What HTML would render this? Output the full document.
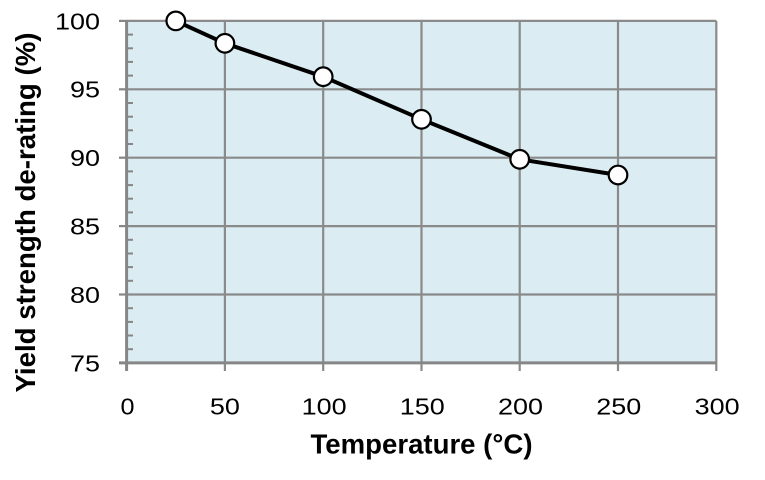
<!DOCTYPE html>
<html><head><meta charset="utf-8"><style>
html,body{margin:0;padding:0;background:#fff;}
svg{display:block;}
text{font-family:"Liberation Sans",Arial,sans-serif;fill:#000;}
</style></head><body>
<svg width="765" height="480" viewBox="0 0 765 480" xmlns="http://www.w3.org/2000/svg">
<rect x="126.6" y="20.9" width="589.7" height="342" fill="#dbedf3"/>
<g stroke="#8a8a8a" stroke-width="2.2" fill="none">
<line x1="126.6" y1="20.9" x2="716.3" y2="20.9"/>
<line x1="126.6" y1="89.3" x2="716.3" y2="89.3"/>
<line x1="126.6" y1="157.7" x2="716.3" y2="157.7"/>
<line x1="126.6" y1="226.1" x2="716.3" y2="226.1"/>
<line x1="126.6" y1="294.5" x2="716.3" y2="294.5"/>
<line x1="224.9" y1="20.9" x2="224.9" y2="371"/>
<line x1="323.2" y1="20.9" x2="323.2" y2="371"/>
<line x1="421.5" y1="20.9" x2="421.5" y2="371"/>
<line x1="519.7" y1="20.9" x2="519.7" y2="371"/>
<line x1="618.0" y1="20.9" x2="618.0" y2="371"/>
<line x1="716.3" y1="20.9" x2="716.3" y2="371"/>
</g>
<g stroke="#868686" stroke-width="2.2">
<line x1="119" y1="20.9" x2="127" y2="20.9"/>
<line x1="119" y1="89.3" x2="127" y2="89.3"/>
<line x1="119" y1="157.7" x2="127" y2="157.7"/>
<line x1="119" y1="226.1" x2="127" y2="226.1"/>
<line x1="119" y1="294.5" x2="127" y2="294.5"/>
<line x1="119" y1="362.9" x2="127" y2="362.9"/>
</g>
<g stroke="#868686" stroke-width="2">
<line x1="126" y1="34.6" x2="133" y2="34.6"/><line x1="126" y1="48.3" x2="133" y2="48.3"/><line x1="126" y1="61.9" x2="133" y2="61.9"/><line x1="126" y1="75.6" x2="133" y2="75.6"/>
<line x1="126" y1="103.0" x2="133" y2="103.0"/><line x1="126" y1="116.7" x2="133" y2="116.7"/><line x1="126" y1="130.3" x2="133" y2="130.3"/><line x1="126" y1="144.0" x2="133" y2="144.0"/>
<line x1="126" y1="171.4" x2="133" y2="171.4"/><line x1="126" y1="185.1" x2="133" y2="185.1"/><line x1="126" y1="198.7" x2="133" y2="198.7"/><line x1="126" y1="212.4" x2="133" y2="212.4"/>
<line x1="126" y1="239.8" x2="133" y2="239.8"/><line x1="126" y1="253.5" x2="133" y2="253.5"/><line x1="126" y1="267.1" x2="133" y2="267.1"/><line x1="126" y1="280.8" x2="133" y2="280.8"/>
<line x1="126" y1="308.2" x2="133" y2="308.2"/><line x1="126" y1="321.9" x2="133" y2="321.9"/><line x1="126" y1="335.5" x2="133" y2="335.5"/><line x1="126" y1="349.2" x2="133" y2="349.2"/>
</g>
<g stroke="#868686" stroke-width="3">
<line x1="126.6" y1="20" x2="126.6" y2="371"/>
<line x1="119" y1="362.9" x2="716.3" y2="362.9"/>
</g>
<polyline points="175.8,20.9 224.9,43.3 323.2,76.7 421.5,119.3 519.7,159.3 618.0,175" fill="none" stroke="#000" stroke-width="4" stroke-linejoin="round"/>
<g fill="#fff" stroke="#000" stroke-width="2.2">
<circle cx="175.8" cy="20.9" r="9.3"/>
<circle cx="224.9" cy="43.3" r="9.3"/>
<circle cx="323.2" cy="76.7" r="9.3"/>
<circle cx="421.5" cy="119.3" r="9.3"/>
<circle cx="519.7" cy="159.3" r="9.3"/>
<circle cx="618.0" cy="175" r="9.3"/>
</g>
<g font-size="23.5" text-anchor="end">
<text x="100" y="29.3" textLength="45" lengthAdjust="spacingAndGlyphs">100</text>
<text x="100" y="97.7" textLength="30" lengthAdjust="spacingAndGlyphs">95</text>
<text x="100" y="166.1" textLength="30" lengthAdjust="spacingAndGlyphs">90</text>
<text x="100" y="234.5" textLength="30" lengthAdjust="spacingAndGlyphs">85</text>
<text x="100" y="302.9" textLength="30" lengthAdjust="spacingAndGlyphs">80</text>
<text x="100" y="371.3" textLength="30" lengthAdjust="spacingAndGlyphs">75</text>
</g>
<g font-size="23.5" text-anchor="middle">
<text x="127.5" y="414.3" textLength="14" lengthAdjust="spacingAndGlyphs">0</text>
<text x="224.9" y="414.3" textLength="30" lengthAdjust="spacingAndGlyphs">50</text>
<text x="324.2" y="414.3" textLength="45" lengthAdjust="spacingAndGlyphs">100</text>
<text x="422.3" y="414.3" textLength="45" lengthAdjust="spacingAndGlyphs">150</text>
<text x="520.5" y="414.3" textLength="45" lengthAdjust="spacingAndGlyphs">200</text>
<text x="618.8" y="414.3" textLength="45" lengthAdjust="spacingAndGlyphs">250</text>
<text x="717.1" y="414.3" textLength="45" lengthAdjust="spacingAndGlyphs">300</text>
</g>
<text x="421.5" y="453.3" font-size="27.5" font-weight="bold" text-anchor="middle" textLength="222" lengthAdjust="spacingAndGlyphs">Temperature (°C)</text>
<text transform="translate(35,212.5) rotate(-90)" x="0" y="0" font-size="27.5" font-weight="bold" text-anchor="middle" textLength="360" lengthAdjust="spacingAndGlyphs">Yield strength de-rating (%)</text>
</svg>
</body></html>
